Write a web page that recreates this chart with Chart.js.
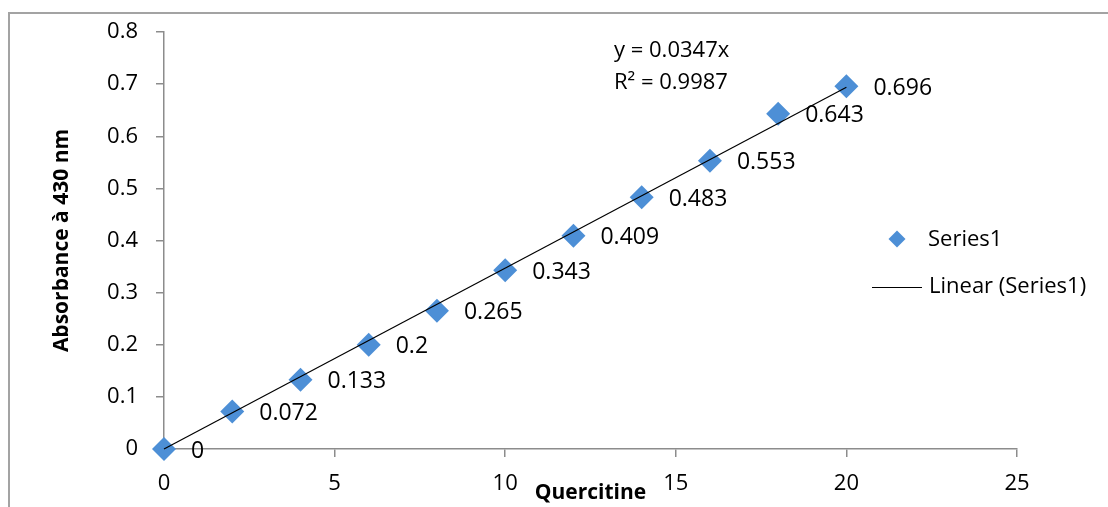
<!DOCTYPE html>
<html>
<head>
<meta charset="utf-8">
<script src="https://cdn.jsdelivr.net/npm/chart.js@4.4.1/dist/chart.umd.min.js"></script>
<style>
  html, body { margin: 0; padding: 0; background: #ffffff; }
  canvas { display: block; }
</style>
</head>
<body>
<canvas id="c" width="1108" height="507"></canvas>
<script>
// ---- data ----
const concentrations = [0, 2, 4, 6, 8, 10, 12, 14, 16, 18, 20];
const absorbances = [0, 0.072, 0.133, 0.2, 0.265, 0.343, 0.409, 0.483, 0.553, 0.643, 0.696];
const dataLabels = ['0', '0.072', '0.133', '0.2', '0.265', '0.343', '0.409', '0.483', '0.553', '0.643', '0.696'];
const trendSlope = 0.0347;
const trendRange = [0, 20];
const equationLines = ['y = 0.0347x', 'R\u00B2 = 0.9987'];
const xTicks = [0, 5, 10, 15, 20, 25];
const yTicks = ['0', '0.1', '0.2', '0.3', '0.4', '0.5', '0.6', '0.7', '0.8'];
const seriesName = 'Series1';
const trendName = 'Linear (Series1)';
const xTitle = 'Quercitine';
const yTitle = 'Absorbance \u00E0 430 nm';

const FONT = "'Open Sans', 'Liberation Sans', sans-serif";
const BLUE = '#4d8fd6';
const AXIS = '#8c8c8c';

const points = concentrations.map((x, i) => ({ x: x, y: absorbances[i] }));
const trendPoints = trendRange.map(x => ({ x: x, y: trendSlope * x }));

const extras = {
  id: 'extras',
  beforeDraw(chart) {
    const ctx = chart.ctx;
    ctx.save();
    ctx.fillStyle = '#ffffff';
    ctx.fillRect(0, 0, chart.width, chart.height);
    // outer frame
    ctx.strokeStyle = '#a3a3a3';
    ctx.lineWidth = 2;
    ctx.beginPath();
    ctx.moveTo(9, chart.height + 5);
    ctx.lineTo(9, 13);
    ctx.lineTo(chart.width + 5, 13);
    ctx.stroke();
    ctx.restore();
  },
  afterDraw(chart) {
    const ctx = chart.ctx;
    const xs = chart.scales.x, ys = chart.scales.y;
    ctx.save();
    ctx.fillStyle = '#000000';
    ctx.font = '23px ' + FONT;
    ctx.textAlign = 'left';
    ctx.textBaseline = 'middle';
    points.forEach((p, i) => {
      ctx.fillText(dataLabels[i], xs.getPixelForValue(p.x) + 27, ys.getPixelForValue(p.y) + 2);
    });
    // equation
    ctx.font = '22px ' + FONT;
    ctx.fillText(equationLines[0], 614, 51);
    ctx.fillText(equationLines[1], 614, 83);
    // legend
    ctx.fillStyle = BLUE;
    ctx.beginPath();
    const lx = 897, ly = 239, r = 8.5;
    ctx.moveTo(lx - r, ly); ctx.lineTo(lx, ly - r); ctx.lineTo(lx + r, ly); ctx.lineTo(lx, ly + r);
    ctx.closePath();
    ctx.fill();
    ctx.strokeStyle = '#000000';
    ctx.lineWidth = 1;
    ctx.beginPath();
    ctx.moveTo(872, 287.5); ctx.lineTo(922, 287.5);
    ctx.stroke();
    ctx.fillStyle = '#000000';
    ctx.fillText(seriesName, 928, 240);
    ctx.fillText(trendName, 929, 287);
    ctx.restore();
  }
};

new Chart(document.getElementById('c'), {
  type: 'scatter',
  data: {
    datasets: [
      {
        label: seriesName,
        data: points,
        pointStyle: 'rectRot',
        pointRadius: 12,
        pointHoverRadius: 12,
        backgroundColor: BLUE,
        borderColor: BLUE,
        borderWidth: 0,
        clip: false,
        order: 2
      },
      {
        type: 'line',
        label: trendName,
        data: trendPoints,
        borderColor: '#000000',
        borderWidth: 1.2,
        pointRadius: 0,
        fill: false,
        showLine: true,
        clip: false,
        order: 1
      }
    ]
  },
  options: {
    responsive: false,
    animation: false,
    devicePixelRatio: 1,
    layout: { padding: { left: 0, right: 91, top: 32, bottom: 0 } },
    plugins: { legend: { display: false }, tooltip: { enabled: false } },
    scales: {
      x: {
        type: 'linear',
        min: xTicks[0],
        max: xTicks[xTicks.length - 1],
        afterBuildTicks(scale) { scale.ticks = xTicks.map(v => ({ value: v })); },
        afterFit(scale) { scale.height = 58; },
        ticks: {
          color: '#000000',
          font: { family: FONT, size: 22 },
          padding: 14,
          callback: v => String(v)
        },
        grid: { drawOnChartArea: false, drawTicks: true, tickLength: 8, color: AXIS, lineWidth: 1.5 },
        border: { display: true, color: AXIS, width: 1.5 },
        title: {
          display: true,
          text: xTitle,
          color: '#000000',
          font: { family: FONT, size: 21, weight: 'bold' },
          padding: { top: 0, bottom: 1 }
        }
      },
      y: {
        type: 'linear',
        min: 0,
        max: Number(yTicks[yTicks.length - 1]),
        afterBuildTicks(scale) { scale.ticks = yTicks.map(v => ({ value: Number(v) })); },
        afterFit(scale) { scale.width = 164; },
        ticks: {
          color: '#000000',
          font: { family: FONT, size: 22 },
          padding: 18,
          callback: (v, i) => yTicks[i]
        },
        grid: { drawOnChartArea: false, drawTicks: true, tickLength: 8, color: AXIS, lineWidth: 1.5 },
        border: { display: true, color: AXIS, width: 1.5 },
        title: {
          display: true,
          text: yTitle,
          color: '#000000',
          font: { family: FONT, size: 21, weight: 'bold' },
          padding: { top: 49, bottom: 0 }
        }
      }
    }
  },
  plugins: [extras]
});
</script>
</body>
</html>
